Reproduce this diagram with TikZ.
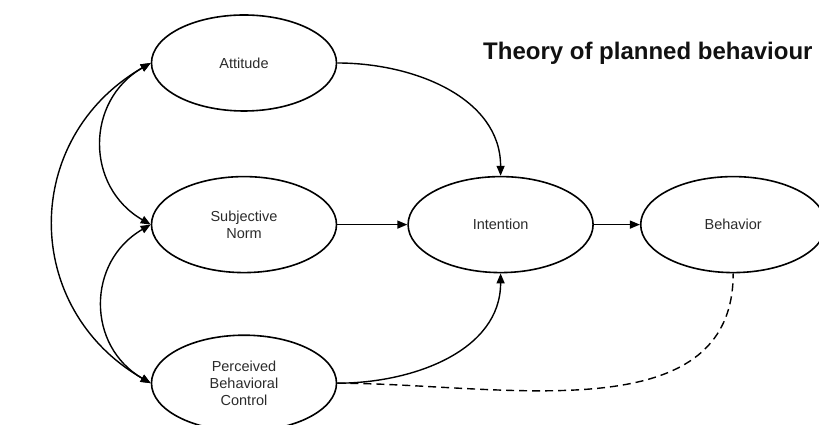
\documentclass[tikz,border=0pt]{standalone}
\usepackage{fontspec}
\setmainfont{Liberation Sans}
\usepackage{tikz}
\usetikzlibrary{
  arrows.meta,
  positioning,
  shapes.geometric
}
\definecolor{txtgray}{HTML}{2B2B2B}
\definecolor{titlecolor}{HTML}{111111}

\begin{document}
\begin{tikzpicture}[
  x=1pt, y=1pt,
  construct/.style={draw, ellipse, line width=1.6pt, minimum width=185pt, minimum height=96pt,
    inner sep=0pt, align=center, font=\fontsize{14.5}{17}\selectfont, text=txtgray},
  link/.style={line width=1.4pt, -{Triangle[length=10pt,width=8pt]}},
  corr/.style={line width=1.4pt, {Triangle[length=10pt,width=8pt]}-{Triangle[length=10pt,width=8pt]}},
  title/.style={font=\bfseries\fontsize{24}{28}\selectfont, text=titlecolor, anchor=base west,
    inner sep=0pt},
]
  \useasboundingbox (0,0) rectangle (819,425);

  % Constructs
  \node[construct] (att) at (244,362) {Attitude};
  \node[construct, below=64pt of att] (norm) {Subjective\\Norm};
  \node[construct, below=61pt of norm] (pbc) {Perceived\\Behavioral\\Control};
  \node[construct, right=70pt of norm] (int) {Intention};
  \node[construct, right=46pt of int] (beh) {Behavior};

  % Title
  \node[title] (ttl) at (483,365) {Theory of planned behaviour};

  % Paths into intention and behaviour
  \draw[link] (att.east) to[out=0, in=90] (int.north);
  \draw[link] (norm) -- (int);
  \draw[link] (pbc.east) to[out=0, in=-90] (int.south);
  \draw[link] (int) -- (beh);
  \draw[line width=1.4pt, dash pattern=on 8pt off 5pt] (pbc.east) to[out=0, in=-90] (beh.south);

  % Correlations between the antecedents
  \draw[corr] (att.west) to[out=210, in=150, looseness=1.2] (norm.west);
  \draw[corr] (norm.west) to[out=210, in=150, looseness=1.2] (pbc.west);
  \draw[corr] (att.west) to[out=210, in=150, looseness=1.2] (pbc.west);
\end{tikzpicture}
\end{document}
